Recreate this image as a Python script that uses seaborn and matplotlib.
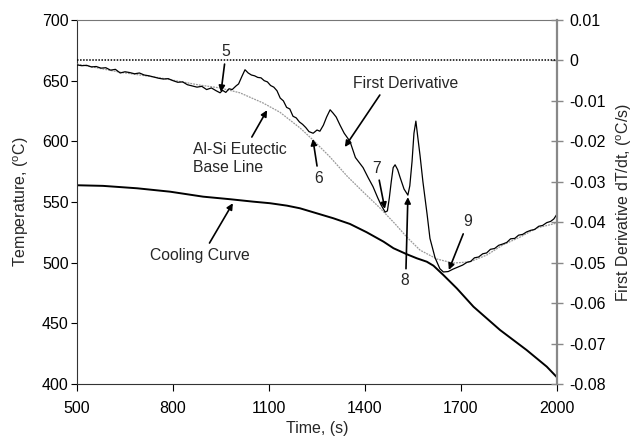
import matplotlib
matplotlib.use('Agg')
import matplotlib.pyplot as plt
import seaborn as sns
import pandas as pd

# ---------------- data ----------------
time_cool = [500, 581, 688, 791, 894, 978, 1050, 1103, 1156, 1197, 1249, 1301, 1353, 1405,
             1458, 1489, 1531, 1562, 1593, 1614, 1645, 1687, 1739, 1822, 1905, 1968, 2000]
temp_cool = [563.8, 563.3, 561.3, 558.5, 554.4, 552.3, 550.3, 549.0, 547.0, 544.8, 540.7, 536.6,
             531.9, 525.1, 517.3, 511.9, 506.9, 503.6, 500.8, 497.5, 489.8, 478.8, 463.7, 444.5,
             428.0, 414.3, 405.5]

time_deriv = [500, 515, 530, 545, 560, 575, 590, 605, 620, 635, 650, 665, 680, 695, 710, 725, 740,
              755, 770, 785, 800, 815, 830, 845, 860, 875, 890, 905, 920, 935, 947, 955, 965, 975,
              985, 997, 1005, 1015, 1025, 1035, 1045, 1055, 1065, 1075, 1085, 1095, 1105, 1115,
              1125, 1135, 1145, 1155, 1165, 1175, 1185, 1195, 1205, 1215, 1225, 1238, 1250, 1259,
              1270, 1280, 1291, 1300, 1310, 1322, 1335, 1353, 1370, 1394, 1410, 1425, 1440, 1450,
              1463, 1470, 1476, 1482, 1488, 1494, 1502, 1510, 1522, 1534, 1540, 1547, 1553, 1559,
              1565, 1572, 1581, 1594, 1603, 1619, 1634, 1645, 1660, 1675, 1690, 1705, 1719, 1730,
              1742, 1755, 1768, 1780, 1792, 1805, 1818, 1830, 1843, 1855, 1868, 1880, 1893, 1905,
              1918, 1930, 1943, 1955, 1968, 1980, 1990, 2000]
deriv = [-0.0011, -0.0013, -0.0012, -0.0016, -0.0015, -0.0019, -0.0018, -0.0024, -0.0022, -0.0031,
         -0.0028, -0.0030, -0.0033, -0.0031, -0.0036, -0.0038, -0.0041, -0.0044, -0.0046, -0.0045,
         -0.0050, -0.0054, -0.0053, -0.0060, -0.0063, -0.0066, -0.0064, -0.0072, -0.0068, -0.0075,
         -0.0080, -0.0074, -0.0079, -0.0070, -0.0072, -0.0063, -0.0058, -0.0040, -0.0023, -0.0031,
         -0.0036, -0.0038, -0.0042, -0.0043, -0.0050, -0.0053, -0.0062, -0.0066, -0.0075, -0.0093,
         -0.0100, -0.0116, -0.0120, -0.0138, -0.0142, -0.0152, -0.0158, -0.0166, -0.0176, -0.0180,
         -0.0172, -0.0175, -0.0160, -0.0140, -0.0122, -0.0130, -0.0140, -0.0160, -0.0180, -0.0200,
         -0.0240, -0.0265, -0.0290, -0.0312, -0.0340, -0.0357, -0.0375, -0.0372, -0.0340, -0.0300,
         -0.0265, -0.0258, -0.0270, -0.0290, -0.0318, -0.0333, -0.0310, -0.0250, -0.0180, -0.0150,
         -0.0190, -0.0235, -0.0300, -0.0380, -0.0440, -0.0488, -0.0515, -0.0523, -0.0522, -0.0516,
         -0.0511, -0.0506, -0.0499, -0.0497, -0.0488, -0.0486, -0.0478, -0.0476, -0.0467, -0.0465,
         -0.0457, -0.0454, -0.0450, -0.0441, -0.0440, -0.0432, -0.0430, -0.0424, -0.0420, -0.0418,
         -0.0410, -0.0408, -0.0401, -0.0398, -0.0392, -0.0380]

time_base = [500, 634, 759, 884, 947, 1009, 1081, 1134, 1197, 1238, 1291, 1344, 1394, 1447, 1494,
             1531, 1572, 1625, 1675, 1728, 1781, 1831, 1884, 1938, 2000]
base = [-0.0009, -0.0029, -0.0043, -0.0061, -0.0068, -0.0080, -0.0105, -0.0128, -0.0167, -0.0197,
        -0.0239, -0.0286, -0.0325, -0.0365, -0.0404, -0.0437, -0.0469, -0.0491, -0.0501, -0.0498,
        -0.0481, -0.0456, -0.0437, -0.0414, -0.0402]

zero_level = 0.0

x_ticks = [500, 800, 1100, 1400, 1700, 2000]
temp_ticks = [400, 450, 500, 550, 600, 650, 700]
deriv_ticks = [-0.08, -0.07, -0.06, -0.05, -0.04, -0.03, -0.02, -0.01, 0.0, 0.01]
deriv_labels = ['-0.08', '-0.07', '-0.06', '-0.05', '-0.04', '-0.03', '-0.02', '-0.01', '0', '0.01']

cool_df = pd.DataFrame({'t': time_cool, 'T': temp_cool})
deriv_df = pd.DataFrame({'t': time_deriv, 'd': deriv})
base_df = pd.DataFrame({'t': time_base, 'd': base})

# ---------------- style ----------------
sns.set_theme(style='ticks')
plt.rcParams['font.family'] = ['Liberation Sans', 'DejaVu Sans']
plt.rcParams['mathtext.fontset'] = 'custom'
plt.rcParams['mathtext.rm'] = 'Liberation Sans'
plt.rcParams['mathtext.it'] = 'Liberation Sans:italic'
plt.rcParams['axes.unicode_minus'] = False

fig = plt.figure(figsize=(6.35, 4.42), dpi=100)
ax = fig.add_axes([77 / 635, 1 - 384 / 442, 480 / 635, 364 / 442])
ax2 = ax.twinx()

sns.lineplot(data=cool_df, x='t', y='T', ax=ax, color='black', lw=1.4,
             sort=False, estimator=None)
sns.lineplot(data=base_df, x='t', y='d', ax=ax2, color='#9a9a9a', lw=0.9,
             linestyle=(0, (1.5, 0.8)), sort=False, estimator=None)
sns.lineplot(data=deriv_df, x='t', y='d', ax=ax2, color='black', lw=0.9,
             sort=False, estimator=None)
ax2.axhline(zero_level, color='black', lw=1.1, linestyle=(0, (1, 1)))

ax.set_xlim(500, 2000)
ax.set_ylim(400, 700)
ax2.set_ylim(-0.08, 0.01)
ax.set_xticks(x_ticks)
ax.set_xticklabels([str(v) for v in x_ticks])
ax.set_yticks(temp_ticks)
ax.set_yticklabels([str(v) for v in temp_ticks])
ax2.set_yticks(deriv_ticks)
ax2.set_yticklabels(deriv_labels)

fs = 11.5
ax.tick_params(axis='y', direction='out', length=4, width=0.8, labelsize=fs, pad=2, colors='black')
ax.tick_params(axis='x', direction='out', length=5, width=0.8, labelsize=fs, pad=7, colors='black')
ax2.tick_params(axis='y', direction='inout', length=8, width=1.0, color='#888888',
                labelcolor='black', labelsize=fs, pad=5)

for s in ['left', 'bottom']:
    ax.spines[s].set_color('#333333')
    ax.spines[s].set_linewidth(0.8)
ax.spines['top'].set_visible(True)
ax.spines['top'].set_color('#777777')
ax.spines['top'].set_linewidth(0.8)
ax.spines['right'].set_visible(False)
for s in ['left', 'bottom', 'top']:
    ax2.spines[s].set_visible(False)
ax2.spines['right'].set_visible(True)
ax2.spines['right'].set_color('#888888')
ax2.spines['right'].set_linewidth(1.6)

ax.set_xlabel('Time, (s)', fontsize=fs, labelpad=4)
ax.set_ylabel(r'Temperature, ($^{\mathrm{o}}$C)', fontsize=fs, labelpad=8)
ax2.set_ylabel(r'First Derivative dT/dt, ($^{\mathrm{o}}$C/s)', fontsize=fs, labelpad=6,
               rotation=90)

# ---------------- annotations ----------------
arrow = dict(arrowstyle='-|>', color='black', lw=1.2, mutation_scale=9, shrinkA=1, shrinkB=0)
afs = 11.3
ax2.annotate('5', xy=(950, -0.0078), xytext=(966, 0.0021), ha='center', va='center',
             fontsize=afs, arrowprops=arrow)
ax2.annotate('Al-Si Eutectic\nBase Line', xy=(1094, -0.0123), xytext=(862, -0.0242),
             ha='left', va='center', fontsize=afs, linespacing=1.3, arrowprops=arrow)
ax2.annotate('6', xy=(1237, -0.0194), xytext=(1256, -0.0291), ha='center', va='center',
             fontsize=afs, arrowprops=arrow)
ax2.annotate('First Derivative', xy=(1337, -0.0214), xytext=(1528, -0.0056), ha='center',
             va='center', fontsize=afs, arrowprops=dict(arrow, relpos=(0.28, 0.0)))
ax2.annotate('7', xy=(1462, -0.0367), xytext=(1437, -0.0266), ha='center', va='center',
             fontsize=afs, arrowprops=arrow)
ax2.annotate('8', xy=(1534, -0.0338), xytext=(1525, -0.0545), ha='center', va='center',
             fontsize=afs, arrowprops=dict(arrow, relpos=(0.6, 1.0)))
ax2.annotate('9', xy=(1662, -0.0518), xytext=(1722, -0.0399), ha='center', va='center',
             fontsize=afs, arrowprops=arrow)
ax2.annotate('Cooling Curve', xy=(987, 549.0), xycoords=ax.transData,
             xytext=(884, 506.3), textcoords=ax.transData, ha='center', va='center',
             fontsize=afs, arrowprops=dict(arrow, relpos=(0.57, 1.0)))

fig.savefig('out.png', dpi=100)
